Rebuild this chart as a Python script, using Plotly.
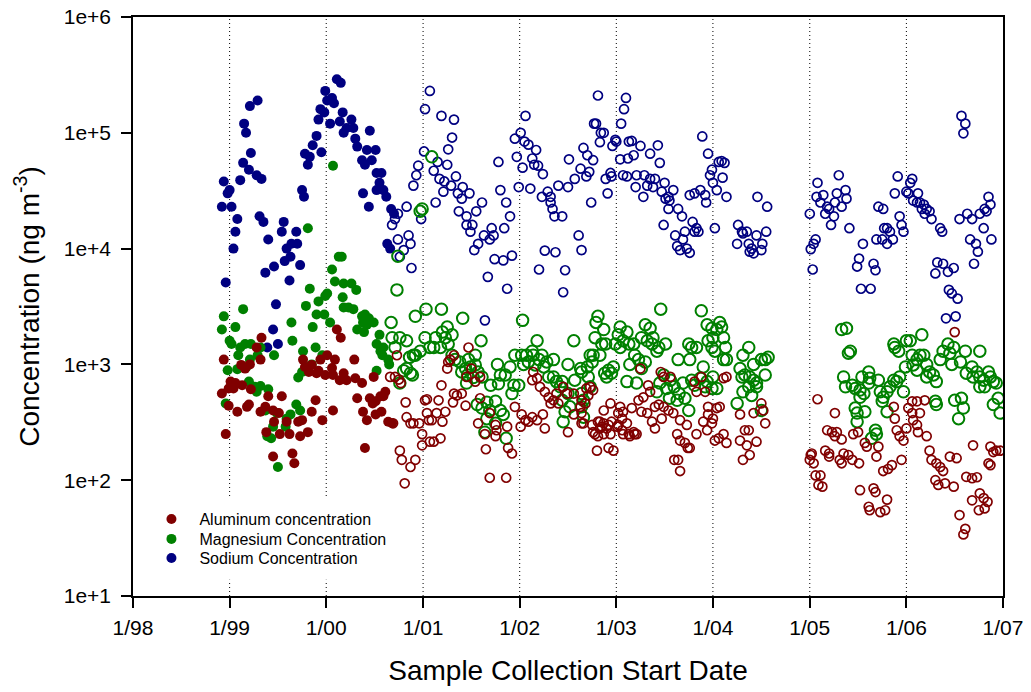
import pandas as pd
import plotly.graph_objects as go

# Each entry: (sample collection start as a decimal year, concentration in ng m^-3)

# Sodium, 1999 - mid 2000 samples
SODIUM_EARLY = [
    (2000.11, 2.9e5), (2000.15, 2.7e5), (1999.99, 2.3e5), (1999.29, 1.9e5), (1999.21, 1.7e5),
    (2000.06, 2.0e5), (2000.01, 1.9e5), (2000.08, 1.8e5), (1999.94, 1.6e5), (1999.98, 1.5e5),
    (1999.92, 1.3e5), (2000.17, 1.5e5), (2000.04, 1.2e5), (2000.14, 1.25e5), (2000.26, 1.3e5),
    (2000.21, 1.1e5), (2000.28, 1.1e5), (1999.15, 1.2e5), (1999.17, 1.0e5), (2000.45, 1.04e5),
    (2000.18, 1.0e5), (2000.30, 8.9e4), (1999.90, 9.4e4), (1999.86, 7.8e4), (1999.78, 6.6e4),
    (1999.83, 6.2e4), (1999.95, 6.8e4), (1999.81, 5.3e4), (2000.32, 7.6e4), (2000.42, 7.1e4),
    (2000.51, 7.1e4), (2000.47, 5.8e4), (2000.37, 5.8e4), (2000.40, 5.3e4), (1999.22, 6.7e4),
    (1999.14, 5.5e4), (1999.20, 4.8e4), (1999.28, 4.3e4), (1999.33, 4.0e4), (1999.11, 3.9e4),
    (1998.94, 3.8e4), (1999.00, 3.2e4), (1998.98, 3.0e4), (1999.75, 3.2e4), (1999.77, 2.8e4),
    (2000.52, 4.5e4), (2000.57, 4.5e4), (2000.55, 3.7e4), (2000.52, 3.2e4), (2000.59, 3.2e4),
    (2000.62, 2.8e4), (2000.38, 3.0e4), (2000.44, 2.3e4), (2000.67, 2.2e4), (2000.70, 2.0e4),
    (1998.92, 2.3e4), (1999.02, 2.3e4), (1999.08, 1.8e4), (1999.06, 1.4e4), (1999.04, 1.0e4),
    (1999.31, 1.9e4), (1999.35, 1.7e4), (1999.56, 1.7e4), (1999.54, 1.4e4), (1999.40, 1.2e4),
    (1999.69, 1.4e4), (1999.70, 1.1e4), (1999.64, 1.1e4), (1999.59, 1.0e4), (1999.63, 8.5e3),
    (1999.57, 7.8e3), (1999.46, 7.0e3), (1999.37, 6.2e3), (1999.73, 7.2e3), (1999.62, 5.3e3),
    (1998.96, 5.1e3), (1999.48, 3.3e3), (2000.63, 1.1e4), (2000.66, 1.0e4), (1999.45, 2.0e3),
    (1999.39, 1.4e3), (1999.50, 1.5e3),
]

# Sodium, late 2000 - 2006 samples
SODIUM_LATE = [
    (2001.07, 2.3e5), (2001.02, 1.6e5), (2001.01, 6.9e4), (2000.95, 5.2e4), (2000.93, 4.3e4),
    (2000.90, 3.5e4), (2000.83, 2.3e4), (2000.74, 2.0e4), (2000.71, 1.8e4), (2000.68, 1.6e4),
    (2000.98, 1.8e4), (2000.74, 1.2e4), (2000.85, 1.3e4), (2000.87, 1.1e4), (2000.80, 9.7e3),
    (2000.76, 8.5e3), (2000.88, 6.8e3),
    (2001.19, 1.4e5), (2001.32, 1.3e5), (2001.30, 9.1e4), (2001.26, 7.2e4), (2001.15, 5.6e4),
    (2001.25, 5.3e4), (2001.11, 4.7e4), (2001.17, 4.0e4), (2001.22, 3.8e4), (2001.29, 3.5e4),
    (2001.21, 3.1e4), (2001.34, 4.2e4), (2001.36, 3.0e4), (2001.41, 3.4e4), (2001.48, 3.0e4),
    (2001.40, 2.7e4), (2001.13, 2.5e4), (2001.37, 2.1e4), (2001.45, 1.9e4), (2001.55, 2.1e4),
    (2001.61, 2.5e4), (2001.45, 1.6e4), (2001.51, 1.6e4), (2001.49, 1.4e4), (2001.63, 1.3e4),
    (2001.57, 1.1e4), (2001.53, 9.7e3), (2001.71, 1.5e4), (2001.69, 1.2e4), (2001.73, 1.3e4),
    (2001.84, 1.5e4), (2001.90, 1.9e4), (2001.86, 2.5e4), (2001.80, 3.2e4), (2001.78, 5.6e4),
    (2001.74, 8.1e3), (2001.83, 7.9e3), (2001.92, 8.7e3), (2001.67, 5.7e3), (2001.87, 4.5e3),
    (2001.64, 2.4e3),
    (2002.06, 1.4e5), (2002.01, 1.0e5), (2001.95, 8.9e4), (2002.05, 8.4e4), (2002.09, 7.9e4),
    (2002.17, 7.1e4), (2001.97, 6.2e4), (2002.03, 5.0e4), (2002.13, 6.0e4), (2002.15, 5.3e4),
    (2002.19, 5.2e4), (2002.24, 4.4e4), (2001.99, 3.4e4), (2002.11, 3.3e4), (2002.23, 2.8e4),
    (2002.29, 3.1e4), (2002.32, 2.8e4), (2002.32, 2.5e4), (2002.34, 2.2e4), (2002.36, 1.9e4),
    (2002.44, 1.9e4), (2002.40, 3.5e4), (2002.50, 3.4e4), (2002.51, 5.9e4), (2002.57, 4.0e4),
    (2002.63, 4.9e4), (2002.66, 7.4e4), (2002.70, 6.4e4), (2002.76, 5.8e4), (2002.72, 4.6e4),
    (2002.69, 4.2e4), (2002.61, 1.3e4), (2002.64, 9.7e3), (2002.26, 9.6e3), (2002.37, 9.3e3),
    (2002.20, 6.6e3), (2002.47, 6.5e3), (2002.45, 4.2e3), (2002.74, 2.5e4), (2002.77, 1.2e5),
    (2002.79, 1.2e5), (2002.84, 1.0e5), (2002.87, 1.0e5), (2002.83, 8.3e4), (2002.81, 2.1e5),
    (2002.99, 8.7e4), (2003.00, 8.4e4), (2002.96, 7.7e4), (2002.94, 4.5e4), (2002.95, 4.2e4),
    (2002.89, 4.0e4), (2002.91, 3.0e4),
    (2003.10, 2.0e5), (2003.08, 1.6e5), (2003.05, 1.2e5), (2003.13, 8.4e4), (2003.04, 5.9e4),
    (2003.12, 6.0e4), (2003.11, 4.2e4), (2003.16, 8.5e4), (2003.25, 7.7e4), (2003.35, 6.6e4),
    (2003.43, 7.8e4), (2003.45, 5.5e4), (2003.18, 6.4e4), (2003.07, 4.3e4), (2003.21, 4.3e4),
    (2003.29, 4.3e4), (2003.35, 4.0e4), (2003.40, 4.0e4), (2003.20, 3.4e4), (2003.32, 3.5e4),
    (2003.38, 3.4e4), (2003.47, 3.1e4), (2003.50, 3.7e4), (2003.54, 2.8e4), (2003.59, 3.2e4),
    (2003.51, 2.7e4), (2003.55, 2.6e4), (2003.54, 2.2e4), (2003.28, 2.8e4), (2003.64, 2.2e4),
    (2003.68, 1.9e4), (2003.49, 1.6e4), (2003.61, 1.3e4), (2003.71, 1.4e4), (2003.69, 1.2e4),
    (2003.63, 1.05e4), (2003.66, 9.7e3), (2003.73, 1.0e4), (2003.76, 9.2e3), (2003.79, 1.7e4),
    (2003.83, 1.5e4), (2003.85, 1.4e4), (2003.81, 1.4e4), (2003.76, 2.9e4), (2003.81, 3.0e4),
    (2003.87, 3.2e4), (2003.92, 2.9e4), (2003.93, 2.5e4), (2003.89, 9.3e4), (2003.95, 6.6e4),
    (2003.99, 4.8e4), (2003.97, 4.3e4),
    (2004.00, 3.7e4), (2004.04, 3.2e4), (2004.06, 5.6e4), (2004.09, 5.7e4), (2004.12, 5.5e4),
    (2004.10, 4.1e4), (2004.14, 2.8e4), (2004.02, 1.5e4), (2004.26, 1.6e4), (2004.30, 1.4e4),
    (2004.31, 1.35e4), (2004.35, 1.4e4), (2004.25, 1.1e4), (2004.37, 1.1e4), (2004.40, 1.0e4),
    (2004.38, 9.4e3), (2004.42, 9.1e3), (2004.45, 1.3e4), (2004.51, 1.1e4), (2004.50, 9.7e3),
    (2004.55, 1.4e4), (2004.46, 2.8e4), (2004.56, 2.3e4),
    (2005.30, 4.3e4), (2005.08, 3.7e4), (2005.07, 2.8e4), (2005.14, 2.9e4), (2005.11, 2.5e4),
    (2005.18, 2.3e4), (2005.20, 2.2e4), (2005.16, 2.0e4), (2005.25, 1.9e4), (2005.26, 2.5e4),
    (2005.28, 3.0e4), (2005.37, 3.2e4), (2005.33, 2.3e4), (2005.38, 2.7e4), (2005.22, 1.6e4),
    (2005.41, 1.5e4), (2005.00, 2.0e4), (2005.06, 1.2e4), (2005.04, 1.1e4), (2005.01, 9.9e3),
    (2005.03, 6.6e3), (2005.55, 1.1e4), (2005.51, 8.2e3), (2005.49, 7.0e3), (2005.53, 4.5e3),
    (2005.63, 4.5e3), (2005.66, 7.4e3), (2005.68, 6.5e3), (2005.71, 2.3e4), (2005.76, 2.2e4),
    (2005.77, 1.5e4), (2005.80, 1.5e4), (2005.83, 1.4e4), (2005.69, 1.2e4), (2005.75, 1.2e4),
    (2005.80, 1.1e4), (2005.86, 1.2e4), (2005.93, 1.9e4), (2005.95, 1.6e4), (2005.97, 1.4e4),
    (2005.91, 4.2e4), (2005.88, 3.0e4),
    (2006.00, 3.1e4), (2006.02, 3.0e4), (2006.06, 4.0e4), (2006.04, 3.7e4), (2006.07, 2.6e4),
    (2006.11, 2.5e4), (2006.12, 3.0e4), (2006.14, 2.5e4), (2006.18, 2.4e4), (2006.16, 2.2e4),
    (2006.21, 2.2e4), (2006.19, 2.0e4), (2006.24, 2.1e4), (2006.26, 1.8e4), (2006.35, 1.5e4),
    (2006.37, 1.4e4), (2006.32, 7.6e3), (2006.30, 6.1e3), (2006.38, 7.4e3), (2006.43, 6.3e3),
    (2006.49, 6.8e3), (2006.44, 4.4e3), (2006.47, 4.1e3), (2006.53, 3.7e3), (2006.41, 2.5e3),
    (2006.51, 2.6e3), (2006.57, 1.4e5), (2006.61, 1.2e5), (2006.59, 9.9e4), (2006.55, 1.8e4),
    (2006.63, 2.0e4), (2006.68, 1.8e4), (2006.76, 2.0e4), (2006.81, 2.2e4), (2006.83, 2.1e4),
    (2006.87, 2.4e4), (2006.85, 2.8e4), (2006.80, 1.5e4), (2006.66, 1.2e4), (2006.72, 1.1e4),
    (2006.74, 9.4e3), (2006.70, 7.4e3), (2006.88, 1.2e4),
]

# Magnesium, 1999 - mid 2000 samples
MAGNESIUM_EARLY = [
    (2000.07, 5.2e4), (1999.81, 1.5e4), (2000.13, 8.5e3), (2000.16, 8.5e3), (2000.06, 6.6e3),
    (2000.09, 5.2e3), (2000.18, 5.0e3), (2000.26, 5.0e3), (2000.31, 4.4e3), (2000.17, 3.8e3),
    (1999.83, 4.5e3), (2000.01, 4.1e3), (1999.99, 3.9e3), (1999.92, 3.5e3), (1999.79, 3.2e3),
    (2000.18, 3.1e3), (2000.23, 3.1e3), (2000.28, 3.0e3), (1999.14, 3.0e3), (1999.90, 2.7e3),
    (1999.98, 2.7e3), (2000.37, 2.6e3), (2000.40, 2.7e3), (2000.44, 2.5e3), (2000.49, 2.3e3),
    (2000.38, 2.3e3), (2000.42, 2.2e3), (2000.32, 2.0e3), (2000.39, 1.9e3), (1999.64, 2.3e3),
    (2000.04, 2.3e3), (1998.94, 2.6e3), (1998.92, 2.0e3), (1999.06, 2.1e3), (1999.86, 2.1e3),
    (2000.55, 1.8e3), (1999.00, 1.6e3), (1999.02, 1.5e3), (1999.11, 1.4e3), (1999.16, 1.5e3),
    (1999.22, 1.5e3), (1999.32, 1.4e3), (1999.65, 1.6e3), (2000.52, 1.5e3), (2000.56, 1.3e3),
    (2000.59, 1.4e3), (1999.76, 1.3e3), (1999.89, 1.4e3), (1999.46, 1.2e3), (2000.58, 1.2e3),
    (2000.64, 1.1e3), (2000.65, 1.0e3), (1999.09, 1.2e3), (1999.21, 1.1e3), (1999.29, 1.2e3),
    (1999.96, 1.2e3), (1999.85, 1.0e3), (1999.75, 8.6e2), (1999.71, 7.7e2), (1998.98, 8.9e2),
    (1999.08, 9.1e2), (1999.17, 9.4e2), (2000.52, 8.8e2), (1999.20, 7.1e2), (1999.26, 6.4e2),
    (1999.32, 6.5e2), (1999.40, 6.1e2), (1999.28, 5.8e2), (1998.96, 4.6e2), (1999.37, 4.0e2),
    (1999.49, 3.8e2), (1999.63, 3.7e2), (1999.69, 4.5e2), (1999.73, 4.0e2), (1999.59, 3.4e2),
    (1999.58, 2.9e2), (1999.45, 2.9e2), (1999.39, 2.4e2), (1999.43, 2.3e2), (1999.50, 1.3e2),
]

# Magnesium, late 2000 - 2006 samples
MAGNESIUM_LATE = [
    (2000.99, 2.2e4), (2000.97, 2.1e4), (2001.09, 6.2e4), (2000.73, 4.4e3), (2000.74, 8.6e3),
    (2000.67, 2.3e3), (2000.68, 1.7e3), (2000.76, 1.7e3), (2000.83, 1.6e3), (2000.92, 2.6e3),
    (2001.03, 3.0e3), (2001.02, 1.7e3), (2000.97, 1.3e3), (2000.90, 1.2e3), (2000.86, 1.15e3),
    (2000.92, 1.2e3), (2001.07, 1.4e3), (2000.83, 9.2e2), (2000.87, 8.4e2), (2000.80, 8.8e2),
    (2000.89, 8.1e2), (2000.76, 6.9e2), (2000.71, 1.4e3),
    (2001.19, 3.0e3), (2001.41, 2.5e3), (2001.13, 1.7e3), (2001.20, 1.9e3), (2001.25, 2.1e3),
    (2001.23, 1.7e3), (2001.30, 1.8e3), (2001.11, 1.4e3), (2001.18, 1.4e3), (2001.26, 1.5e3),
    (2001.60, 1.6e3), (2001.54, 1.2e3), (2001.47, 1.1e3), (2001.30, 1.2e3), (2001.33, 1.1e3),
    (2001.38, 1.05e3), (2001.44, 9.2e2), (2001.49, 9.5e2), (2001.54, 9.9e2), (2001.40, 8.6e2),
    (2001.46, 8.1e2), (2001.57, 8.6e2), (2001.45, 6.9e2), (2001.52, 7.7e2), (2001.61, 7.8e2),
    (2001.77, 1.0e3), (2001.90, 9.5e2), (2001.80, 8.1e2), (2001.70, 6.6e2), (2001.78, 6.8e2),
    (2001.92, 5.6e2), (2001.85, 8.1e2), (2001.95, 1.2e3), (2001.99, 6.6e2), (2001.94, 6.6e2),
    (2001.56, 4.5e2), (2001.66, 4.7e2), (2001.75, 4.8e2), (2001.61, 4.2e2), (2001.69, 4.0e2),
    (2001.80, 4.0e2), (2001.83, 3.7e2), (2001.66, 3.4e2), (2001.75, 3.1e2), (2001.64, 2.6e2),
    (2001.86, 2.3e2),
    (2002.03, 2.4e3), (2002.02, 1.2e3), (2002.07, 1.2e3), (2002.13, 1.3e3), (2002.18, 1.6e3),
    (2002.14, 1.2e3), (2002.23, 1.2e3), (2002.20, 1.1e3), (2002.28, 1.05e3), (2002.35, 1.1e3),
    (2002.04, 1.0e3), (2002.09, 1.05e3), (2002.16, 9.9e2), (2002.25, 9.5e2), (2002.30, 7.8e2),
    (2002.35, 7.8e2), (2002.38, 7.1e2), (2002.42, 6.4e2), (2002.50, 1.0e3), (2002.56, 1.6e3),
    (2002.44, 7.1e2), (2002.63, 9.2e2), (2002.70, 9.5e2), (2002.71, 7.8e2), (2002.73, 6.4e2),
    (2002.64, 4.3e2), (2002.66, 4.9e2), (2002.64, 5.6e2), (2002.50, 5.6e2), (2002.44, 4.9e2),
    (2002.47, 3.9e2), (2002.45, 3.2e2), (2002.52, 4.3e2), (2002.57, 7.3e2), (2002.66, 3.5e2),
    (2002.73, 1.2e3), (2002.75, 1.05e3), (2002.64, 8.6e2), (2002.81, 2.6e3), (2002.79, 2.3e3),
    (2002.87, 2.0e3), (2002.78, 1.7e3), (2002.85, 1.5e3), (2002.76, 1.2e3), (2002.83, 1.2e3),
    (2002.89, 1.5e3), (2002.88, 8.4e2), (2002.92, 8.9e2), (2002.95, 8.4e2), (2002.90, 7.8e2),
    (2002.97, 9.5e2), (2002.99, 1.5e3),
    (2003.04, 2.1e3), (2003.11, 1.9e3), (2003.02, 1.8e3), (2003.07, 1.6e3), (2003.13, 1.5e3),
    (2003.04, 1.4e3), (2003.30, 2.2e3), (2003.35, 2.05e3), (2003.38, 1.7e3), (2003.26, 1.7e3),
    (2003.32, 1.6e3), (2003.37, 1.5e3), (2003.44, 1.4e3), (2003.51, 1.5e3), (2003.42, 1.3e3),
    (2003.18, 1.5e3), (2003.19, 1.2e3), (2003.23, 1.1e3), (2003.30, 1.05e3), (2003.26, 9.2e2),
    (2003.14, 1.0e3), (2003.11, 7.1e2), (2003.21, 6.9e2), (2003.46, 3.0e3), (2003.88, 2.9e3),
    (2003.64, 1.1e3), (2003.75, 1.5e3), (2003.78, 1.4e3), (2003.83, 1.4e3), (2003.76, 1.1e3),
    (2003.90, 9.5e2), (2003.94, 2.2e3), (2003.99, 2.05e3), (2003.95, 1.6e3), (2003.99, 1.4e3),
    (2003.49, 8.1e2), (2003.56, 7.3e2), (2003.45, 6.9e2), (2003.52, 6.2e2), (2003.60, 6.4e2),
    (2003.65, 5.6e2), (2003.55, 5.1e2), (2003.63, 4.9e2), (2003.71, 5.1e2), (2003.42, 5.8e2),
    (2003.75, 4.0e2), (2003.69, 6.9e2), (2003.78, 7.3e2), (2003.81, 6.6e2), (2003.87, 7.6e2),
    (2003.92, 6.4e2), (2003.94, 7.1e2), (2003.99, 6.2e2),
    (2004.00, 1.7e3), (2004.04, 2.0e3), (2004.07, 2.3e3), (2004.09, 2.1e3), (2004.11, 1.7e3),
    (2004.13, 1.4e3), (2004.11, 1.1e3), (2004.14, 1.1e3), (2004.02, 1.3e3), (2004.04, 6.2e2),
    (2004.00, 7.8e2), (2004.37, 1.4e3), (2004.31, 1.2e3), (2004.42, 1.0e3), (2004.50, 1.1e3),
    (2004.54, 1.1e3), (2004.57, 1.15e3), (2004.28, 9.2e2), (2004.33, 8.1e2), (2004.30, 7.8e2),
    (2004.38, 7.8e2), (2004.42, 7.3e2), (2004.45, 6.9e2), (2004.54, 8.1e2), (2004.37, 6.4e2),
    (2004.31, 5.8e2), (2004.40, 5.4e2), (2004.25, 4.6e2), (2004.50, 4.0e2), (2004.45, 6.4e2),
    (2005.33, 2.0e3), (2005.38, 2.05e3), (2005.40, 1.25e3), (2005.42, 1.3e3), (2005.35, 7.8e2),
    (2005.37, 6.4e2), (2005.44, 6.6e2), (2005.47, 6.2e2), (2005.52, 6.0e2), (2005.54, 7.8e2),
    (2005.61, 8.6e2), (2005.62, 7.6e2), (2005.56, 5.6e2), (2005.52, 5.2e2), (2005.47, 4.2e2),
    (2005.49, 3.8e2), (2005.57, 3.9e2), (2005.49, 3.2e2), (2005.61, 6.9e2), (2005.68, 2.7e2),
    (2005.64, 2.3e2), (2005.69, 2.5e2), (2005.71, 7.3e2), (2005.73, 5.8e2), (2005.76, 5.2e2),
    (2005.80, 5.8e2), (2005.83, 6.4e2), (2005.75, 4.8e2), (2005.80, 3.9e2), (2005.87, 7.3e2),
    (2005.90, 7.1e2), (2005.93, 7.8e2), (2005.97, 5.8e2), (2005.87, 1.5e3), (2005.88, 1.4e3),
    (2005.92, 1.3e3), (2005.99, 9.5e2),
    (2006.00, 1.6e3), (2006.04, 1.6e3), (2006.06, 1.2e3), (2006.07, 9.9e2), (2006.11, 1.1e3),
    (2006.14, 1.2e3), (2006.16, 1.8e3), (2006.18, 1.2e3), (2006.21, 1.0e3), (2006.24, 8.6e2),
    (2006.28, 8.1e2), (2006.31, 7.1e2), (2006.11, 8.9e2), (2006.21, 7.8e2), (2006.30, 4.8e2),
    (2006.31, 4.5e2), (2006.35, 1.1e3), (2006.38, 1.3e3), (2006.43, 1.5e3), (2006.45, 1.25e3),
    (2006.49, 1.4e3), (2006.47, 1.0e3), (2006.56, 1.05e3), (2006.61, 1.3e3), (2006.76, 1.3e3),
    (2006.62, 8.4e2), (2006.68, 9.5e2), (2006.73, 8.6e2), (2006.69, 7.8e2), (2006.76, 7.8e2),
    (2006.80, 7.3e2), (2006.85, 8.6e2), (2006.87, 7.8e2), (2006.90, 7.1e2), (2006.93, 6.9e2),
    (2006.76, 6.4e2), (2006.81, 6.4e2), (2006.95, 5.1e2), (2006.90, 4.5e2), (2006.97, 3.8e2),
    (2006.50, 4.9e2), (2006.57, 5.1e2), (2006.59, 4.2e2), (2006.54, 3.4e2),
]

# Aluminum, 1999 - mid 2000 samples
ALUMINUM_EARLY = [
    (1999.33, 1.7e3), (2000.11, 2.0e3), (2000.15, 1.7e3), (1998.94, 1.1e3), (1999.28, 1.4e3),
    (1999.32, 1.1e3), (1999.76, 1.1e3), (1999.78, 9.5e2), (1999.85, 9.9e2), (1999.94, 1.1e3),
    (2000.01, 1.2e3), (2000.09, 1.1e3), (1999.92, 8.8e2), (1999.82, 8.6e2), (2000.29, 1.1e3),
    (2000.06, 9.3e2), (2000.07, 8.1e2), (1999.99, 8.1e2), (1999.90, 8.4e2), (2000.18, 8.4e2),
    (2000.14, 7.3e2), (2000.21, 7.3e2), (2000.30, 7.6e2), (2000.37, 6.9e2), (1999.12, 9.9e2),
    (1999.21, 1.0e3), (1999.16, 9.2e2), (2000.49, 7.8e2), (1999.01, 7.1e2), (1999.06, 6.9e2),
    (1999.13, 6.6e2), (1998.99, 6.2e2), (1998.92, 5.6e2), (1999.04, 6.2e2), (1999.22, 6.1e2),
    (1999.40, 5.3e2), (1999.54, 5.3e2), (1999.89, 4.9e2), (2000.32, 5.1e2), (2000.45, 5.1e2),
    (2000.51, 4.8e2), (2000.56, 5.3e2), (2000.61, 5.8e2), (2000.59, 5.3e2), (2000.48, 4.6e2),
    (1998.99, 4.4e2), (1999.08, 3.9e2), (1999.18, 4.3e2), (1999.20, 4.5e2), (1999.32, 3.9e2),
    (1999.37, 4.3e2), (1999.45, 4.0e2), (1999.51, 3.8e2), (1999.85, 3.9e2), (2000.07, 4.0e2),
    (2000.38, 3.9e2), (2000.51, 3.7e2), (2000.57, 3.9e2), (1999.46, 3.2e2), (1999.59, 3.2e2),
    (1999.71, 3.2e2), (1999.75, 3.3e2), (1999.96, 3.3e2), (2000.42, 3.3e2), (2000.64, 3.2e2),
    (2000.68, 3.1e2), (1999.38, 2.6e2), (1999.52, 2.5e2), (1999.62, 2.5e2), (1999.73, 2.4e2),
    (1999.81, 2.6e2), (1998.96, 2.5e2), (2000.40, 1.9e2), (1999.65, 1.7e2), (1999.45, 1.6e2),
    (1999.67, 1.4e2),
]

# Aluminum, late 2000 - 2006 samples
ALUMINUM_LATE = [
    (2000.73, 1.2e3), (2000.66, 7.8e2), (2000.71, 7.8e2), (2000.75, 7.4e2), (2000.77, 6.9e2),
    (2000.82, 4.7e2), (2000.83, 3.5e2), (2000.87, 3.1e2), (2000.90, 3.1e2), (2000.96, 3.1e2),
    (2000.69, 3.1e2), (2000.99, 2.5e2), (2000.76, 1.8e2), (2000.78, 1.5e2), (2000.87, 1.3e2),
    (2000.92, 1.5e2), (2000.81, 9.4e1), (2000.99, 2.0e2),
    (2001.02, 4.9e2), (2001.04, 3.8e2), (2001.06, 3.3e2), (2001.07, 2.15e2), (2001.04, 5.0e2),
    (2001.09, 3.3e2), (2001.14, 3.8e2), (2001.16, 4.9e2), (2001.23, 3.9e2), (2001.20, 3.2e2),
    (2001.11, 2.15e2), (2001.18, 2.3e2), (2001.19, 6.6e2), (2001.32, 5.6e2), (2001.35, 5.4e2),
    (2001.40, 5.6e2), (2001.31, 4.7e2), (2001.44, 4.4e2), (2001.28, 1.1e3), (2001.32, 1.2e3),
    (2001.47, 1.4e3), (2001.25, 9.2e2), (2001.26, 1.05e3), (2001.45, 7.8e2), (2001.50, 9.2e2),
    (2001.54, 7.1e2), (2001.59, 7.8e2), (2001.59, 5.1e2), (2001.57, 3.1e2), (2001.64, 2.5e2),
    (2001.65, 1.85e2), (2001.69, 3.8e2), (2001.75, 3.0e2), (2001.76, 2.7e2), (2001.75, 2.4e2),
    (2001.87, 2.9e2), (2001.88, 1.9e2), (2001.92, 1.7e2), (2001.95, 4.3e2), (2001.69, 1.05e2),
    (2001.86, 1.05e2),
    (2002.02, 3.7e2), (2002.06, 3.3e2), (2002.09, 3.2e2), (2002.01, 2.9e2), (2002.13, 3.5e2),
    (2002.18, 3.3e2), (2002.24, 3.7e2), (2002.26, 2.8e2), (2002.14, 8.6e2), (2002.18, 7.6e2),
    (2002.13, 7.3e2), (2002.21, 6.4e2), (2002.26, 5.8e2), (2002.30, 5.2e2), (2002.35, 4.9e2),
    (2002.40, 4.6e2), (2002.32, 4.6e2), (2002.38, 5.6e2), (2002.45, 6.4e2), (2002.49, 5.6e2),
    (2002.56, 5.6e2), (2002.50, 2.6e2), (2002.56, 3.7e2), (2002.64, 3.1e2), (2002.63, 4.3e2),
    (2002.69, 6.2e2), (2002.73, 6.4e2), (2002.71, 5.4e2), (2002.76, 6.0e2), (2002.64, 4.9e2),
    (2002.68, 4.6e2), (2002.66, 3.1e2), (2002.64, 3.8e2), (2002.75, 3.0e2), (2002.83, 3.2e2),
    (2002.85, 2.9e2), (2002.90, 2.8e2), (2002.95, 3.2e2), (2002.87, 2.5e2), (2002.80, 1.8e2),
    (2002.92, 1.9e2), (2002.97, 1.8e2), (2002.81, 2.4e2), (2002.87, 4.0e2), (2002.94, 4.6e2),
    (2002.81, 3.2e2), (2002.87, 3.1e2), (2002.83, 2.8e2), (2002.76, 2.6e2), (2002.78, 2.5e2),
    (2002.92, 3.0e2), (2002.94, 2.5e2),
    (2003.04, 4.3e2), (2003.06, 3.4e2), (2003.11, 3.1e2), (2003.01, 2.9e2), (2003.13, 2.5e2),
    (2003.07, 2.5e2), (2003.02, 3.0e2), (2003.06, 2.7e2), (2003.02, 3.8e2), (2003.07, 3.9e2),
    (2003.18, 2.6e2), (2003.21, 2.5e2), (2003.14, 2.4e2), (2003.19, 2.5e2), (2003.25, 9.2e2),
    (2003.46, 8.6e2), (2003.49, 7.8e2), (2003.56, 7.8e2), (2003.33, 6.6e2), (2003.35, 5.8e2),
    (2003.23, 4.9e2), (2003.28, 5.2e2), (2003.16, 4.2e2), (2003.26, 3.9e2), (2003.32, 3.8e2),
    (2003.40, 4.3e2), (2003.44, 4.5e2), (2003.49, 4.3e2), (2003.54, 4.0e2), (2003.37, 3.2e2),
    (2003.40, 2.8e2), (2003.47, 3.4e2), (2003.59, 3.8e2), (2003.66, 3.3e2), (2003.73, 3.0e2),
    (2003.63, 2.5e2), (2003.66, 2.2e2), (2003.71, 2.1e2), (2003.74, 1.9e2), (2003.76, 1.9e2),
    (2003.60, 1.5e2), (2003.64, 1.5e2), (2003.66, 1.2e2), (2003.83, 2.5e2), (2003.90, 3.2e2),
    (2003.94, 2.7e2), (2003.95, 3.7e2), (2003.99, 3.1e2), (2003.95, 4.3e2), (2003.83, 5.8e2),
    (2003.81, 7.1e2), (2003.88, 7.8e2), (2003.92, 5.8e2),
    (2004.00, 3.4e2), (2004.04, 4.2e2), (2004.07, 4.3e2), (2004.11, 7.6e2), (2004.14, 7.8e2),
    (2004.02, 2.2e2), (2004.06, 2.3e2), (2004.11, 2.5e2), (2004.14, 2.1e2), (2004.28, 3.7e2),
    (2004.33, 2.7e2), (2004.37, 2.7e2), (2004.28, 2.2e2), (2004.35, 2.0e2), (2004.45, 2.15e2),
    (2004.31, 1.5e2), (2004.38, 1.65e2), (2004.42, 3.8e2), (2004.50, 4.6e2), (2004.52, 4.0e2),
    (2004.54, 3.1e2),
    (2005.08, 5.0e2), (2005.02, 1.7e2), (2005.00, 1.5e2), (2005.04, 1.4e2), (2005.06, 1.1e2),
    (2005.11, 1.1e2), (2005.09, 9.1e1), (2005.18, 2.7e2), (2005.16, 1.8e2), (2005.20, 1.6e2),
    (2005.26, 3.8e2), (2005.23, 2.6e2), (2005.28, 2.6e2), (2005.33, 2.25e2), (2005.26, 2.4e2),
    (2005.45, 2.5e2), (2005.50, 2.6e2), (2005.57, 2.1e2), (2005.59, 1.95e2), (2005.20, 1.7e2),
    (2005.33, 1.4e2), (2005.35, 1.7e2), (2005.40, 1.65e2), (2005.44, 1.5e2), (2005.51, 1.4e2),
    (2005.31, 1.5e2), (2005.71, 1.95e2), (2005.69, 1.6e2), (2005.81, 1.25e2), (2005.76, 1.2e2),
    (2005.85, 1.35e2), (2005.01, 1.65e2), (2005.13, 8.8e1), (2005.52, 8.2e1), (2005.66, 8.5e1),
    (2005.68, 7.9e1), (2005.61, 5.9e1), (2005.62, 5.5e1), (2005.73, 5.3e1), (2005.78, 5.5e1),
    (2005.80, 6.8e1), (2005.87, 4.3e2), (2005.88, 3.4e2), (2005.90, 2.7e2), (2005.93, 2.4e2),
    (2005.97, 2.2e2), (2005.95, 1.5e2),
    (2006.00, 2.8e2), (2006.02, 4.2e2), (2006.06, 3.8e2), (2006.07, 3.3e2), (2006.11, 3.0e2),
    (2006.06, 4.8e2), (2006.11, 4.8e2), (2006.14, 3.8e2), (2006.19, 4.9e2), (2006.21, 2.4e2),
    (2006.12, 2.6e2), (2006.24, 1.8e2), (2006.26, 1.5e2), (2006.31, 1.4e2), (2006.35, 1.3e2),
    (2006.38, 1.2e2), (2006.30, 1.0e2), (2006.33, 9.1e1), (2006.40, 9.4e1), (2006.49, 8.8e1),
    (2006.45, 1.6e2), (2006.52, 1.55e2), (2006.50, 1.9e3), (2006.62, 1.07e2), (2006.68, 1.04e2),
    (2006.73, 1.06e2), (2006.76, 7.7e1), (2006.68, 6.7e1), (2006.80, 7.0e1), (2006.84, 6.5e1),
    (2006.75, 5.5e1), (2006.81, 5.7e1), (2006.55, 5.0e1), (2006.61, 3.8e1), (2006.59, 3.4e1),
    (2006.69, 2.0e2), (2006.87, 1.95e2), (2006.90, 1.75e2), (2006.93, 1.8e2), (2006.97, 1.8e2),
    (2006.85, 1.4e2), (2006.87, 1.35e2),
]

YEAR_TICKS = list(range(1998, 2008))
DOTTED_YEARS = list(range(1999, 2007))
DECADE_TICKS = [1e1, 1e2, 1e3, 1e4, 1e5, 1e6]
DECADE_LABELS = ["1e+1", "1e+2", "1e+3", "1e+4", "1e+5", "1e+6"]

SERIES_NAMES = ["Aluminum concentration", "Magnesium Concentration", "Sodium Concentration"]

NAVY = "#000080"
GREEN = "#008000"
MAROON = "#800000"
FONT = "Liberation Sans, Arial, sans-serif"


def to_dates(years):
    """Decimal years -> timestamps."""
    out = []
    for y in years:
        yr = int(y)
        start = pd.Timestamp(year=yr, month=1, day=1)
        end = pd.Timestamp(year=yr + 1, month=1, day=1)
        out.append(start + (end - start) * (y - yr))
    return out


def scatter(points, color, filled, size, line_width=0.0):
    years, conc = zip(*points)
    return go.Scatter(
        x=to_dates(years),
        y=list(conc),
        mode="markers",
        showlegend=False,
        hoverinfo="x+y",
        marker=dict(
            symbol="circle" if filled else "circle-open",
            size=size,
            color=color,
            line=dict(width=line_width, color=color),
        ),
    )


fig = go.Figure()

# legend entries (filled dots), one small legend per row so rows sit close together
legend_rows = [("legend", MAROON), ("legend2", GREEN), ("legend3", NAVY)]
for name, (legend_id, color) in zip(SERIES_NAMES, legend_rows):
    fig.add_trace(go.Scatter(
        x=[None], y=[None], mode="markers", name=name, legend=legend_id,
        marker=dict(symbol="circle", size=10, color=color),
    ))

# data: filled dots for the early period, open circles afterwards
fig.add_trace(scatter(SODIUM_EARLY, NAVY, True, 10))
fig.add_trace(scatter(SODIUM_LATE, NAVY, False, 9, 1.7))
fig.add_trace(scatter(MAGNESIUM_EARLY, GREEN, True, 10))
fig.add_trace(scatter(MAGNESIUM_LATE, GREEN, False, 11.5, 2))
fig.add_trace(scatter(ALUMINUM_EARLY, MAROON, True, 10))
fig.add_trace(scatter(ALUMINUM_LATE, MAROON, False, 9, 1.7))

# dotted year separators
for yr in DOTTED_YEARS:
    fig.add_shape(
        type="line", xref="x", yref="paper",
        x0=f"{yr}-01-01", x1=f"{yr}-01-01", y0=0, y1=1,
        line=dict(color="black", width=1, dash="1px,3px"),
        layer="below",
    )

# white panel behind the legend rows (hides the separators there)
fig.add_shape(
    type="rect", xref="paper", yref="paper",
    x0=0.002, x1=0.302, y0=0.028, y1=0.171,
    line=dict(width=0), fillcolor="white", layer="below",
)

legend_common = dict(
    xanchor="left", yanchor="top", x=0.012,
    bgcolor="rgba(0,0,0,0)", borderwidth=0,
    font=dict(size=16, family=FONT, color="black"),
    itemwidth=46,
)

fig.update_layout(
    width=1031,
    height=692,
    margin=dict(l=133, r=28, t=17, b=96),
    paper_bgcolor="white",
    plot_bgcolor="white",
    font=dict(family=FONT, color="black"),
    legend=dict(y=0.1623, **legend_common),
    legend2=dict(y=0.1278, **legend_common),
    legend3=dict(y=0.0949, **legend_common),
    xaxis=dict(
        type="date",
        range=["1998-01-01", "2007-01-01"],
        tickvals=[f"{y}-01-01" for y in YEAR_TICKS],
        tickformat="%-m/%y",
        ticks="outside", ticklen=10, tickwidth=1.5, tickcolor="black",
        showline=True, linecolor="black", linewidth=1.5, mirror=True,
        showgrid=False, zeroline=False, automargin=False,
        tickfont=dict(size=21, family=FONT, color="black"),
        ticklabelstandoff=2,
        title=dict(text="Sample Collection Start Date",
                   font=dict(size=28, family=FONT, color="black"), standoff=22),
    ),
    yaxis=dict(
        type="log",
        range=[1, 6],
        tickvals=DECADE_TICKS,
        ticktext=DECADE_LABELS,
        ticks="outside", ticklen=10, tickwidth=1.5, tickcolor="black",
        showline=True, linecolor="black", linewidth=1.5, mirror=True,
        showgrid=False, zeroline=False, automargin=False,
        tickfont=dict(size=21, family=FONT, color="black"),
        ticklabelstandoff=6,
        title=dict(text="Concentration (ng m<sup>-3</sup>)",
                   font=dict(size=28, family=FONT, color="black"), standoff=16),
    ),
)

fig.write_html("out.html")
